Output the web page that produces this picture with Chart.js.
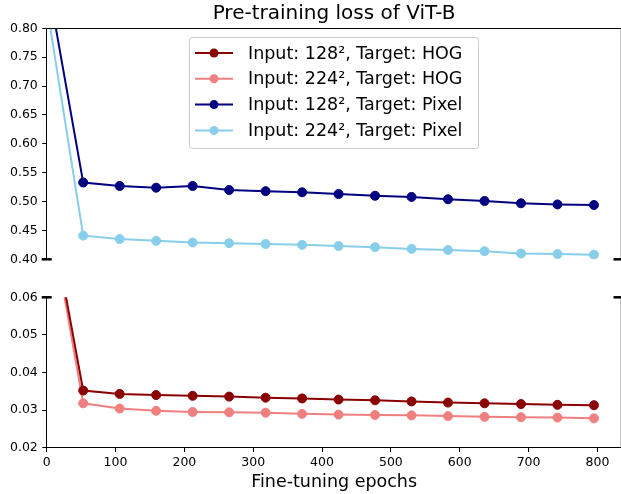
<!DOCTYPE html>
<html>
<head>
<meta charset="utf-8">
<script src="https://cdn.jsdelivr.net/npm/chart.js@4.4.1/dist/chart.umd.min.js"></script>
<style>
  html, body { margin: 0; padding: 0; background: #fff; overflow: hidden; }
  #wrap { position: relative; width: 621px; height: 494px; overflow: hidden; }
  #topChart, #bottomChart { position: absolute; left: 0; }
  #topChart { top: 0; }
  #bottomChart { top: 272px; }
</style>
</head>
<body>
<div id="wrap">
  <canvas id="topChart" width="627" height="272"></canvas>
  <canvas id="bottomChart" width="627" height="222"></canvas>
</div>
<script>
// ---- data ----
const epochs = [0, 53, 106, 159, 212, 265, 318, 371, 424, 477, 530, 583, 636, 689, 742, 795];

const hog128 = [0.088, 0.0352, 0.0343, 0.0340, 0.0338, 0.0336, 0.0333, 0.0331, 0.0328, 0.0326, 0.0323, 0.0320, 0.0318, 0.0316, 0.0314, 0.0313];
const hog224 = [0.087, 0.0318, 0.0304, 0.0298, 0.0295, 0.0294, 0.0293, 0.0290, 0.0288, 0.0287, 0.0286, 0.0284, 0.0282, 0.0281, 0.0280, 0.0278];
const pixel128 = [0.89, 0.533, 0.527, 0.524, 0.527, 0.520, 0.518, 0.516, 0.513, 0.510, 0.508, 0.504, 0.501, 0.497, 0.495, 0.494];
const pixel224 = [0.84, 0.441, 0.435, 0.432, 0.429, 0.428, 0.4265, 0.425, 0.423, 0.421, 0.418, 0.416, 0.414, 0.410, 0.409, 0.408];

const seriesLabels = [
    "Input: 128², Target: HOG",
    "Input: 224², Target: HOG",
    "Input: 128², Target: Pixel",
    "Input: 224², Target: Pixel"
];
const seriesColors = ["#8b0000", "#f08080", "#000080", "#87ceeb"];

const topTicks = [0.40, 0.45, 0.50, 0.55, 0.60, 0.65, 0.70, 0.75, 0.80];
const bottomTicks = [0.02, 0.03, 0.04, 0.05, 0.06];
const xTicks = [0, 100, 200, 300, 400, 500, 600, 700, 800];

const titleText = "Pre-training loss of ViT-B";
const xTitleText = "Fine-tuning epochs";

Chart.defaults.font.family = "'DejaVu Sans', sans-serif";
Chart.defaults.color = "#000";

function toPoints(values) {
    return values.map((v, i) => ({ x: epochs[i], y: v }));
}

function makeDataset(idx, values) {
    return {
        label: seriesLabels[idx],
        data: toPoints(values),
        borderColor: seriesColors[idx],
        backgroundColor: seriesColors[idx],
        pointBackgroundColor: seriesColors[idx],
        pointBorderColor: seriesColors[idx],
        pointBorderWidth: 1,
        pointRadius: 4.5,
        borderWidth: 2,
        tension: 0
    };
}

// spines, broken-axis marks, title and legend
const decorations = {
    id: "decorations",
    afterDraw(chart, args, opts) {
        const { ctx, chartArea: a } = chart;
        ctx.save();

        function line(x1, y1, x2, y2) {
            ctx.beginPath();
            ctx.moveTo(x1, y1);
            ctx.lineTo(x2, y2);
            ctx.stroke();
        }

        ctx.lineWidth = 1;
        ctx.strokeStyle = "#000";
        if (opts.topSpine) line(a.left, Math.round(a.top) + 0.5, a.right, Math.round(a.top) + 0.5);

        ctx.strokeStyle = "#888";
        line(a.right - 0.5, a.top, a.right - 0.5, a.bottom);

        // break marks
        ctx.strokeStyle = "#000";
        ctx.lineWidth = 2.5;
        const by = opts.breakAtBottom ? a.bottom : a.top;
        line(a.left - 5, by, a.left + 5, by);
        line(a.right - 8, by, a.right + 4, by);

        if (opts.title) {
            ctx.fillStyle = "#000";
            ctx.font = "20px 'DejaVu Sans'";
            ctx.textAlign = "center";
            ctx.textBaseline = "middle";
            ctx.fillText(titleText, (a.left + a.right) / 2, 14);
        }

        if (opts.legend) {
            const bx = 189.5, byy = 37.5, bw = 289, bh = 111, r = 3;
            ctx.fillStyle = "rgba(255,255,255,0.8)";
            ctx.strokeStyle = "#cccccc";
            ctx.lineWidth = 1;
            ctx.beginPath();
            ctx.roundRect(bx, byy, bw, bh, r);
            ctx.fill();
            ctx.stroke();

            ctx.font = "17.5px 'DejaVu Sans'";
            ctx.textAlign = "left";
            ctx.textBaseline = "middle";
            seriesLabels.forEach((label, i) => {
                const y = 53 + i * 25.8;
                ctx.strokeStyle = seriesColors[i];
                ctx.lineWidth = 2;
                line(195, y, 233, y);
                ctx.fillStyle = seriesColors[i];
                ctx.beginPath();
                ctx.arc(214, y, 4.5, 0, Math.PI * 2);
                ctx.fill();
                ctx.fillStyle = "#000";
                ctx.fillText(label, 248, y + 1);
            });
        }

        ctx.restore();
    }
};

function yScale(min, max, ticks) {
    return {
        type: "linear",
        min,
        max,
        afterFit: s => { s.width = 46.7; },
        afterBuildTicks: s => { s.ticks = ticks.map(v => ({ value: v })); },
        ticks: {
            padding: 4.5,
            font: { size: 12.5 },
            callback: v => v.toFixed(2)
        },
        grid: {
            drawOnChartArea: false,
            drawTicks: true,
            tickLength: 4.4,
            tickColor: "#000",
            tickWidth: 1
        },
        border: { color: "#000", width: 1 }
    };
}

// -----------------------------
// Top panel (pixel targets)
// -----------------------------
new Chart(document.getElementById("topChart"), {
    type: "line",
    data: {
        datasets: [makeDataset(2, pixel128), makeDataset(3, pixel224)]
    },
    options: {
        responsive: false,
        animation: false,
        events: [],
        layout: { padding: { top: 28.3, right: 1, bottom: 12.7, left: 0 } },
        scales: {
            x: { type: "linear", min: 0, max: 835, display: false },
            y: yScale(0.40, 0.80, topTicks)
        },
        plugins: {
            legend: { display: false },
            tooltip: { enabled: false },
            decorations: { topSpine: true, breakAtBottom: true, title: true, legend: true }
        }
    },
    plugins: [decorations]
});

// -----------------------------
// Bottom panel (HOG targets)
// -----------------------------
new Chart(document.getElementById("bottomChart"), {
    type: "line",
    data: {
        datasets: [makeDataset(0, hog128), makeDataset(1, hog224)]
    },
    options: {
        responsive: false,
        animation: false,
        events: [],
        layout: { padding: { top: 25.3, right: 1, bottom: 0, left: 0 } },
        scales: {
            x: {
                type: "linear",
                min: 0,
                max: 835,
                afterFit: s => { s.height = 46.3; },
                afterBuildTicks: s => { s.ticks = xTicks.map(v => ({ value: v })); },
                ticks: { padding: 3, font: { size: 12.5 }, maxRotation: 0 },
                grid: {
                    drawOnChartArea: false,
                    drawTicks: true,
                    tickLength: 4.4,
                    tickColor: "#000",
                    tickWidth: 1
                },
                border: { color: "#000", width: 1 },
                title: {
                    display: true,
                    text: xTitleText,
                    font: { size: 17.5 },
                    padding: { top: 2, bottom: 1 }
                }
            },
            y: yScale(0.02, 0.06, bottomTicks)
        },
        plugins: {
            legend: { display: false },
            tooltip: { enabled: false },
            decorations: { topSpine: false, breakAtBottom: false, title: false, legend: false }
        }
    },
    plugins: [decorations]
});
</script>
</body>
</html>
